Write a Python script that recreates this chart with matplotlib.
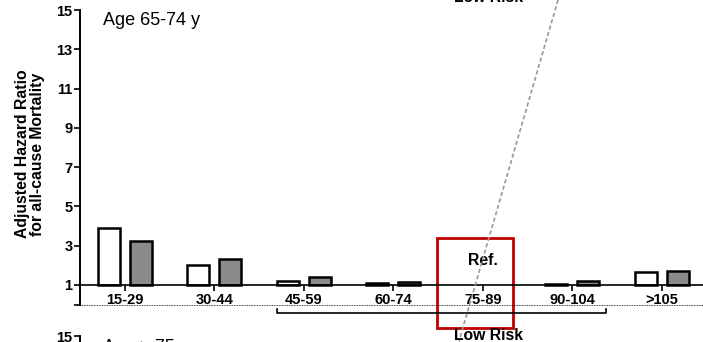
import matplotlib
matplotlib.use('Agg')
import matplotlib.pyplot as plt
import numpy as np
from matplotlib.lines import Line2D
from matplotlib.patches import Rectangle

plt.rcParams['font.family'] = ['Liberation Sans', 'DejaVu Sans']

groups = ['15-29', '30-44', '45-59', '60-74', '75-89', '90-104', '>105']
hr_open = [3.9, 2.0, 1.2, 1.1, np.nan, 1.05, 1.65]
hr_grey = [3.25, 2.33, 1.38, 1.14, np.nan, 1.2, 1.7]
ref_idx = 4
low_risk = (2, 5)   # bracket spans 45-59 .. 90-104
yticks = [0, 1, 3, 5, 7, 9, 11, 13, 15]

W, H = 703, 342
fig = plt.figure(figsize=(W / 100, H / 100), dpi=100)

ax_l, ax_w = 80 / W, 626.5 / W
ax = fig.add_axes([ax_l, 37.4 / H, ax_w, 294.6 / H])

x = np.arange(len(groups))
bw, off = 0.246, 0.179
ax.bar(x - off, np.array(hr_open) - 1, bw, bottom=1, color='white',
       edgecolor='black', linewidth=1.8)
ax.bar(x + off, np.array(hr_grey) - 1, bw, bottom=1, color='#8a8a8a',
       edgecolor='black', linewidth=1.8)

ax.set_xlim(-0.5, len(groups) - 0.5)
ax.set_ylim(0, 15)
ax.spines['top'].set_visible(False)
ax.spines['right'].set_visible(False)
ax.spines['bottom'].set_position(('data', 1))
ax.spines['bottom'].set_linewidth(1.2)
ax.spines['left'].set_linewidth(1.4)
ax.axhline(0, color='black', lw=0.6, ls=(0, (1, 1)), clip_on=False)

ax.set_xticks(x)
ax.set_xticklabels(groups, fontsize=10.5, fontweight='bold')
ax.set_yticks(yticks)
ax.set_yticklabels(['' if v == 0 else str(v) for v in yticks],
                   fontsize=10.5, fontweight='bold')
ax.tick_params(axis='x', length=4, width=1.2, pad=1.5)
ax.tick_params(axis='y', length=4.5, width=1.2, pad=1)

ax.set_ylabel('Adjusted Hazard Ratio\nfor all-cause Mortality',
              fontsize=11.3, fontweight='bold', linespacing=1.05)
ax.yaxis.label.set_va('center')
ax.yaxis.set_label_coords(-0.0798, 0.511)

ax.text(0.0367, 0.949, 'Age 65-74 y', transform=ax.transAxes,
        fontsize=13, va='baseline', ha='left')

# reference group box
ax.add_patch(Rectangle((ref_idx - 0.51, -1.19), 0.85, 4.58, fill=False,
                       edgecolor='#c00000', lw=2, clip_on=False))
ax.text(ref_idx, 2.27, 'Ref.', fontsize=11.3, fontweight='bold',
        ha='center', va='center')

# low risk bracket
bx0, bx1 = low_risk[0] - 0.30, low_risk[1] + 0.377
ax.plot([bx0, bx0, bx1, bx1], [-0.22, -0.43, -0.43, -0.22], color='black',
        lw=1.2, clip_on=False)

# connector line and labels crossing into neighbouring panels
fig.add_artist(Line2D([558 / W, 459 / W], [1.0, 1 / H],
                      transform=fig.transFigure, color='#999999', lw=1.2,
                      ls=(0, (2.5, 1.5))))
fig.text(488 / W, 2 / H, 'Low Risk', fontsize=11.3, fontweight='bold',
         ha='center', va='baseline')
fig.text(488 / W, (H - 2.5) / H, 'Low Risk', fontsize=11.3, fontweight='bold',
         ha='center', va='baseline')

# next panel, only its top edge is shown
ax2 = fig.add_axes([ax_l, 6 / H - 294.6 / H, ax_w, 294.6 / H])
ax2.set_xlim(-0.5, len(groups) - 0.5)
ax2.set_ylim(0, 15)
for s in ('top', 'right', 'bottom'):
    ax2.spines[s].set_visible(False)
ax2.spines['left'].set_linewidth(1.4)
ax2.set_xticks([])
ax2.set_yticks([15])
ax2.set_yticklabels(['15'], fontsize=10.5, fontweight='bold')
ax2.tick_params(axis='y', length=4.5, width=1.2, pad=1)
ax2.text(0.0367, 0.944, 'Age \u2265 75 y', transform=ax2.transAxes,
         fontsize=13, va='baseline', ha='left')

fig.savefig('out.png', dpi=100)
